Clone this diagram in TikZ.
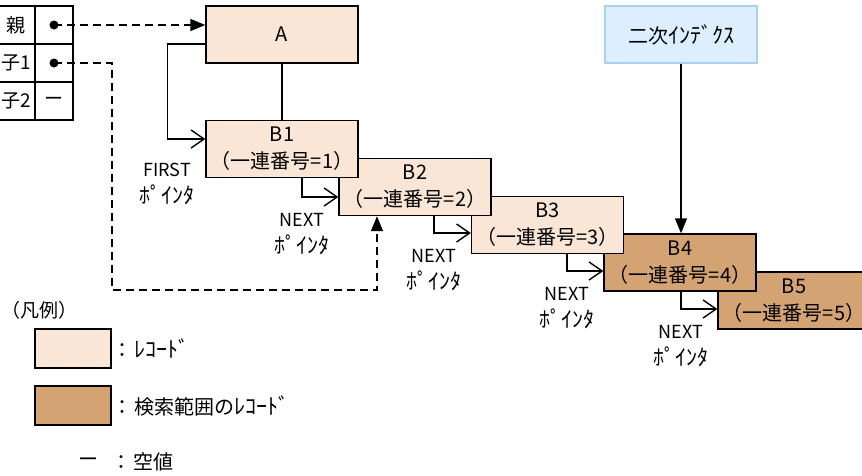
\documentclass[tikz,border=0pt]{standalone}
\usepackage{fontspec}
\setmainfont{Noto Sans CJK JP}
\usetikzlibrary{arrows.meta}

\definecolor{recfill}{HTML}{F9E6D6}
\definecolor{hitfill}{HTML}{D4A373}
\definecolor{idxfill}{HTML}{DDEEFF}
\definecolor{idxline}{HTML}{A9D1F2}

% 半角カナを少し大きく
\newcommand\hkana[1]{{\fontsize{22}{27}\selectfont #1}}

\tikzset{
  rec/.style={draw, line width=1.4pt, fill=recfill, minimum width=152pt, minimum height=57pt,
    align=center, inner sep=0pt, font=\fontsize{20}{27}\selectfont},
  hitrec/.style={rec, fill=hitfill},
  cell/.style={draw, line width=1.4pt, minimum width=38pt, minimum height=38pt, inner sep=0pt,
    font=\fontsize{19}{20}\selectfont},
  ptr/.style={line width=1.4pt, -{Straight Barb[length=13pt,width=18pt,line width=1.4pt]}},
  dptr/.style={line width=1.4pt, dash pattern=on 8pt off 5pt, -{Triangle[length=15pt,width=12pt]}},
  iptr/.style={line width=1.4pt, -{Triangle[length=15pt,width=12pt]}},
  lbl/.style={align=center, font=\fontsize{18}{27}\selectfont},
  legtxt/.style={anchor=west, inner sep=0pt, font=\fontsize{20}{20}\selectfont}
}

\begin{document}
\begin{tikzpicture}[x=1pt, y=-1pt]
  \useasboundingbox (0,0) rectangle (862,475);

  % 親子テーブル
  \node[cell] (p1) at (16,25) {親};
  \node[cell] (p2) at (54,25) {};
  \node[cell] (c11) at (16,63) {子1};
  \node[cell] (c12) at (54,63) {};
  \node[cell] (c21) at (16,101) {子2};
  \node[cell] (c22) at (54,101) {ー};
  \fill (p2.center) circle (4.5pt);
  \fill (c12.center) circle (4.5pt);

  % レコード (手前のものを後に描く)
  \node[hitrec] (B5) at (794,300.5) {B5\\（一連番号=5）};
  \node[hitrec] (B4) at (680,262.5) {B4\\（一連番号=4）};
  \node[rec] (B3) at (547.5,225) {B3\\（一連番号=3）};
  \node[rec] (B2) at (415,187) {B2\\（一連番号=2）};
  \node[rec] (B1) at (282,149) {B1\\（一連番号=1）};
  \node[rec] (A) at (282,34.5) {A};

  % 二次インデクス
  \node[rec, draw=idxline, fill=idxfill] (idx) at (681,34.5) {二次\hkana{ｲﾝﾃﾞｸｽ}};
  \draw[iptr] (idx.south) -- (idx.south |- B4.north);

  % 親 -> A, 子1 -> B2
  \draw[dptr] (p2.center) -- (p2.center -| A.west);
  \coordinate (lp) at (112,290);
  \draw[dptr] (c12.center) -| (lp) -| ([xshift=-38pt]B2.south);

  % A - B1, FIRSTポインタ
  \draw[line width=1.4pt] (A.south) -- (B1.north);
  \draw[ptr] ([yshift=-9.5pt]A.west) -- ++(-38,0) coordinate (fc) |- ([yshift=10pt]B1.west) coordinate[pos=0.5] (fk);
  \node[lbl] (first) at ([yshift=-44.5pt]fk) {FIRST\\\hkana{ﾎﾟｲﾝﾀ}};

  % NEXTポインタ
  \foreach \s/\t/\dx/\dy in {B1/B2/20/-10, B2/B3/19/-8, B3/B4/19.5/-8.5, B4/B5/1/-8.5} {
    \draw[ptr] ([xshift=\dx pt]\s.south) |- ([yshift=\dy pt]\t.west) coordinate[pos=0.5] (nc\t);
    \node[lbl] (next\t) at ([yshift=-37pt]nc\t) {NEXT\\\hkana{ﾎﾟｲﾝﾀ}};
  }

  % 凡例
  \node[anchor=west, inner sep=0pt, font=\fontsize{19}{20}\selectfont] (leg) at (1,310) {（凡例）};
  \node[rec, minimum width=76pt, minimum height=39pt] (k1) at (73,348.5) {};
  \node[legtxt] (k1t) at ([xshift=1pt]k1.east) {：\hspace{2pt}\hkana{ﾚｺｰﾄﾞ}};
  \node[hitrec, minimum width=76pt, minimum height=39pt] (k2) at (73,405.5) {};
  \node[legtxt] (k2t) at ([xshift=1pt]k2.east) {：\hspace{2pt}検索範囲の\hkana{ﾚｺｰﾄﾞ}};
  \node[inner sep=0pt, font=\fontsize{20}{20}\selectfont] (kd) at (88,462) {ー};
  \node[legtxt] (kdt) at (111,462) {：\hspace{2pt}空値};
\end{tikzpicture}
\end{document}
